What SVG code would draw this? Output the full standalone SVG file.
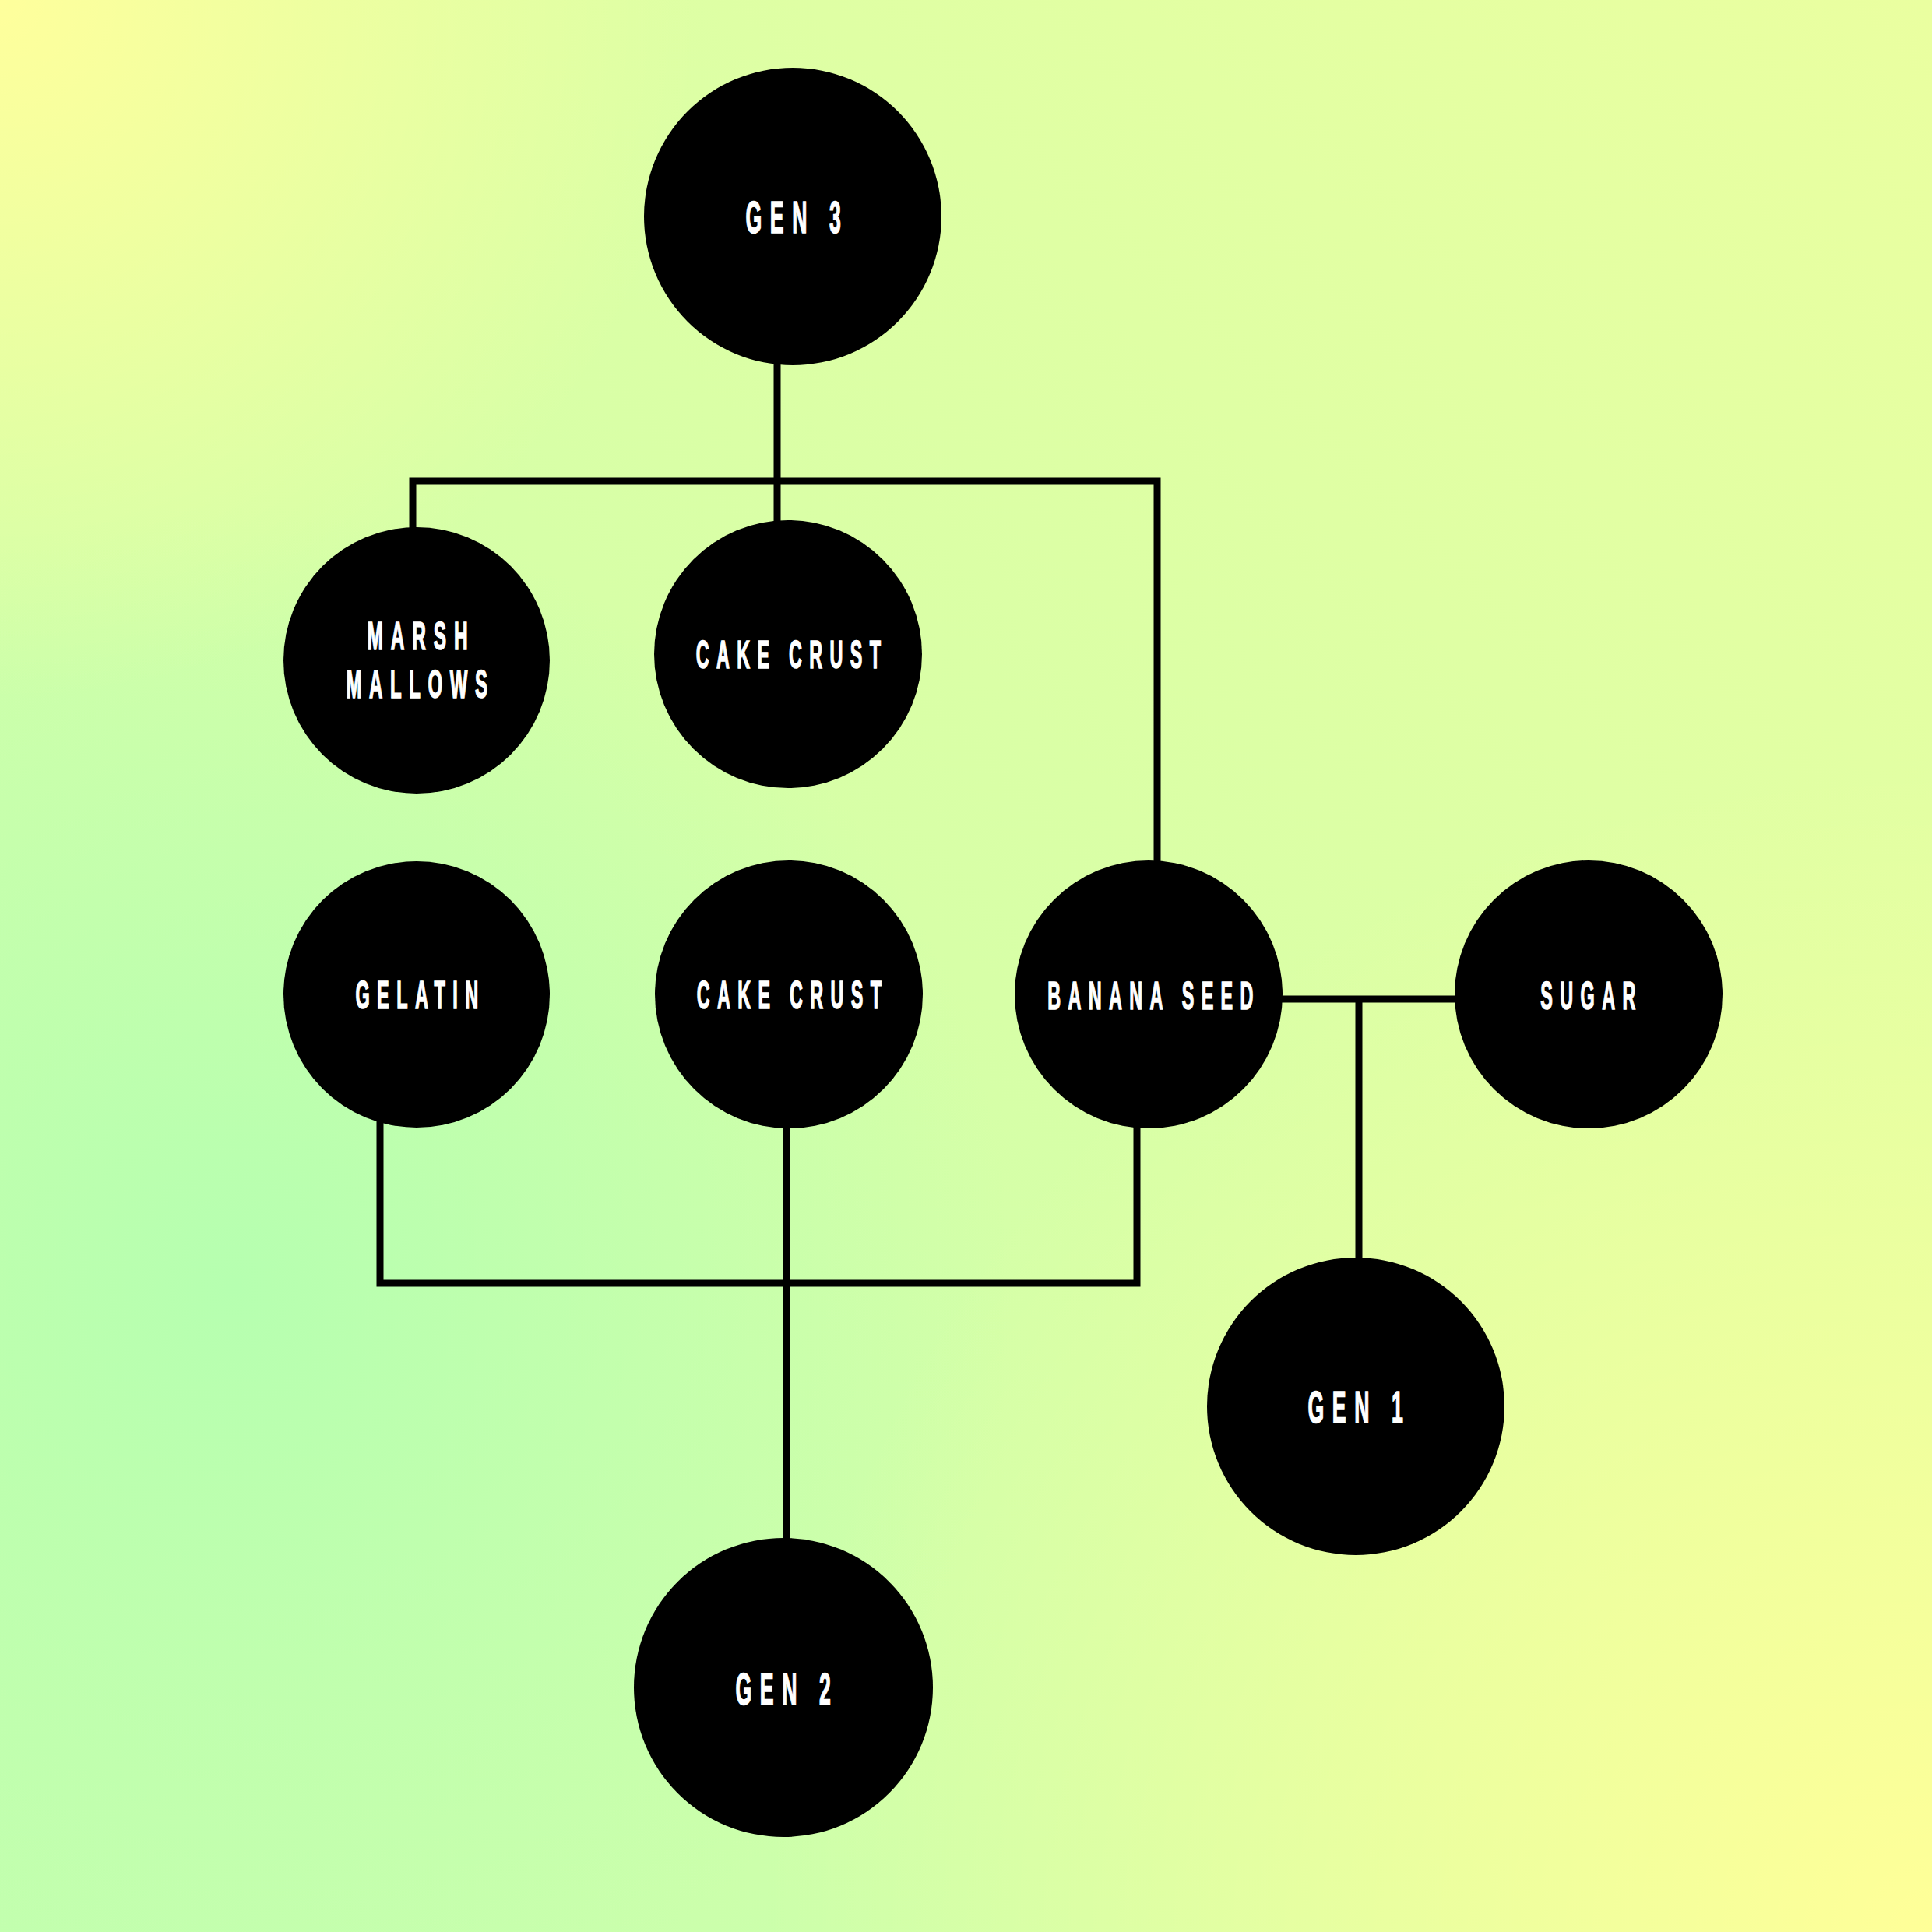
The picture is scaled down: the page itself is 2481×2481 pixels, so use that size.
<svg xmlns="http://www.w3.org/2000/svg" width="2481" height="2481" viewBox="0 0 2481 2481">
  <defs>
    <linearGradient id="bgBase" x1="0" y1="1" x2="1" y2="0">
      <stop offset="0" stop-color="#C4FFAE"/>
      <stop offset="1" stop-color="#EAFFA0"/>
    </linearGradient>
    <radialGradient id="greenGlow" cx="300" cy="1650" r="1000" gradientUnits="userSpaceOnUse">
      <stop offset="0" stop-color="#B6FFB0" stop-opacity="1"/>
      <stop offset="1" stop-color="#B6FFB0" stop-opacity="0"/>
    </radialGradient>
    <radialGradient id="yellowTL" cx="0" cy="0" r="900" gradientUnits="userSpaceOnUse">
      <stop offset="0" stop-color="#FFFF9C" stop-opacity="1"/>
      <stop offset="1" stop-color="#FFFF9C" stop-opacity="0"/>
    </radialGradient>
    <radialGradient id="yellowBR" cx="2481" cy="2481" r="1500" gradientUnits="userSpaceOnUse">
      <stop offset="0" stop-color="#FFFF98" stop-opacity="1"/>
      <stop offset="1" stop-color="#FFFF98" stop-opacity="0"/>
    </radialGradient>
  </defs>
  <style>
    .node { fill: #000000; }
    .label { fill: #FFFFFF; stroke: #FFFFFF; stroke-width: 1.6; font-family: "Liberation Sans", Arial, sans-serif; font-weight: bold; text-anchor: middle; }
    .big { font-size: 58px; letter-spacing: 23px; }
    .small { font-size: 50px; letter-spacing: 20px; }
    .conn { fill: none; stroke: #000000; stroke-width: 9; stroke-linejoin: miter; stroke-linecap: butt; }
  </style>

  <g id="background">
    <rect x="0" y="0" width="2481" height="2481" fill="url(#bgBase)"/>
    <rect x="0" y="0" width="2481" height="2481" fill="url(#greenGlow)"/>
    <rect x="0" y="0" width="2481" height="2481" fill="url(#yellowTL)"/>
    <rect x="0" y="0" width="2481" height="2481" fill="url(#yellowBR)"/>
  </g>

  <g id="connectors">
    <path class="conn" d="M998 440 V700"/>
    <path class="conn" d="M530 700 V618 H1486 V1130"/>
    <path class="conn" d="M488 1400 V1648 H1460 V1420"/>
    <path class="conn" d="M1010 1420 V2000"/>
    <path class="conn" d="M1620 1283 H1890"/>
    <path class="conn" d="M1745 1283 V1640"/>
  </g>

  <g id="gen3">
    <circle class="node" cx="1018" cy="278" r="191"/>
    <text class="label big" transform="translate(1024 299) scale(0.46 1)">GEN 3</text>
  </g>
  <g id="marshmallows">
    <circle class="node" cx="535" cy="848" r="171"/>
    <text class="label small" transform="translate(541 834) scale(0.49 1)">MARSH</text>
    <text class="label small" transform="translate(540 896) scale(0.48 1)">MALLOWS</text>
  </g>
  <g id="cakecrust1">
    <circle class="node" cx="1012" cy="840" r="172"/>
    <text class="label small" transform="translate(1017 858) scale(0.467 1)">CAKE CRUST</text>
  </g>
  <g id="gelatin">
    <circle class="node" cx="535" cy="1277" r="171"/>
    <text class="label small" transform="translate(540 1295) scale(0.47 1)">GELATIN</text>
  </g>
  <g id="cakecrust2">
    <circle class="node" cx="1013" cy="1277" r="172"/>
    <text class="label small" transform="translate(1018 1295) scale(0.467 1)">CAKE CRUST</text>
  </g>
  <g id="bananaseed">
    <circle class="node" cx="1475" cy="1277" r="172"/>
    <text class="label small" transform="translate(1482 1296) scale(0.468 1)">BANANA SEED</text>
  </g>
  <g id="sugar">
    <circle class="node" cx="2040" cy="1277" r="172"/>
    <text class="label small" transform="translate(2044 1296) scale(0.468 1)">SUGAR</text>
  </g>
  <g id="gen1">
    <circle class="node" cx="1741" cy="1806" r="191"/>
    <text class="label big" transform="translate(1746 1827) scale(0.46 1)">GEN 1</text>
  </g>
  <g id="gen2">
    <circle class="node" cx="1006" cy="2167" r="192"/>
    <text class="label big" transform="translate(1011 2189) scale(0.46 1)">GEN 2</text>
  </g>
</svg>
